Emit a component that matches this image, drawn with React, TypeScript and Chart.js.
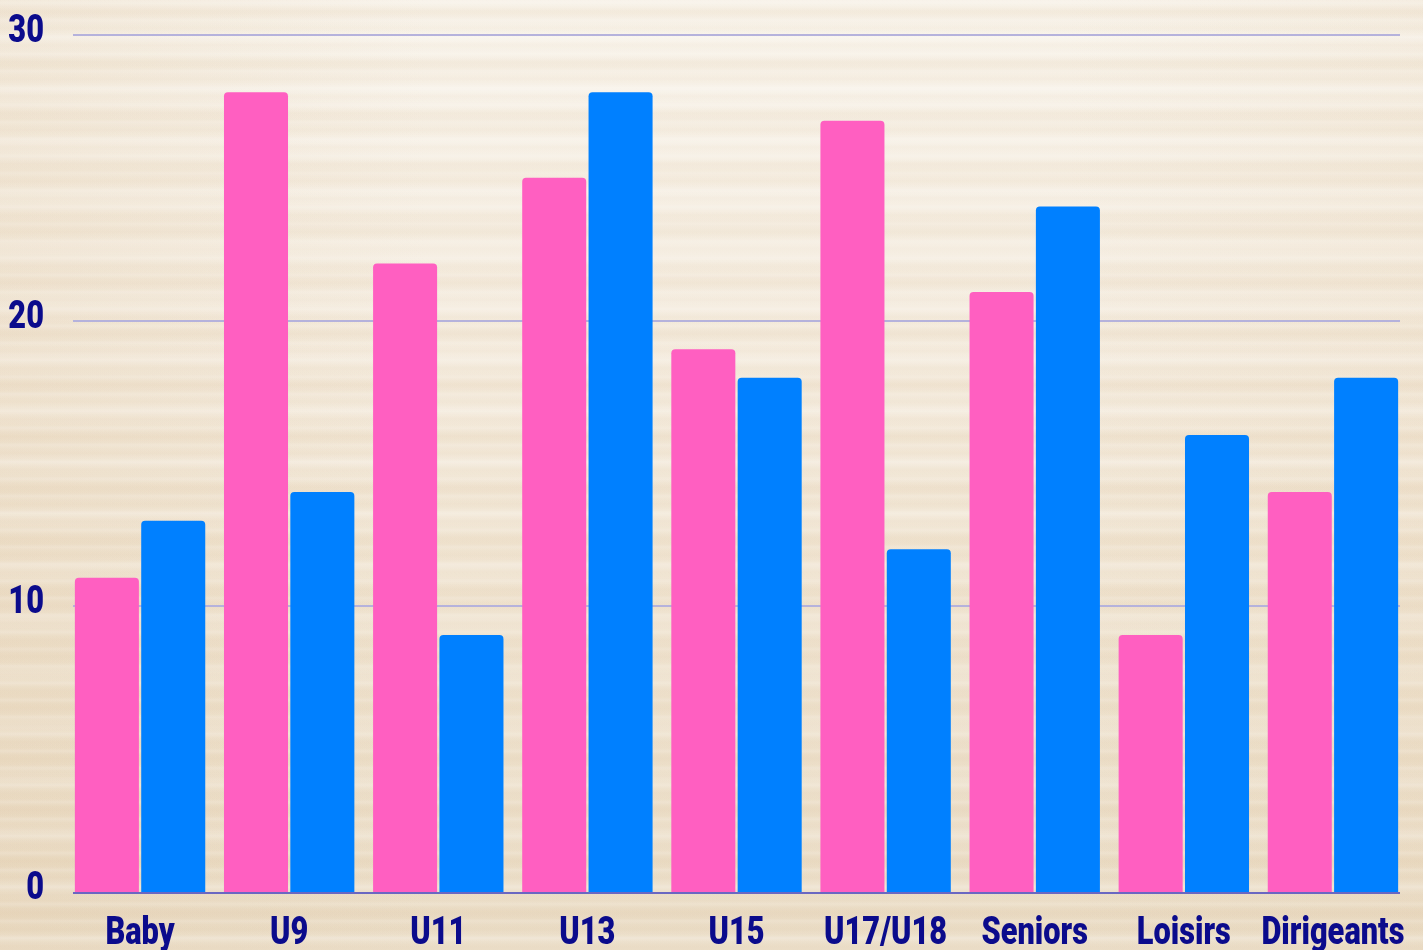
import React, { useEffect, useRef } from "react";
import { Chart, registerables } from "chart.js";

Chart.register(...registerables);

const categories = ["Baby", "U9", "U11", "U13", "U15", "U17/U18", "Seniors", "Loisirs", "Dirigeants"];
const pinkValues = [11, 28, 22, 25, 19, 27, 21, 9, 14];
const blueValues = [13, 14, 9, 28, 18, 12, 24, 16, 18];
const yTicks = [0, 10, 20, 30];

const PINK = "#FF5FC1";
const BLUE = "#0080FF";
const NAVY = "#0B0B8C";
const FONT = '900 38px Roboto, "DejaVu Sans", sans-serif';
const SQUEEZE = 0.81;

function drawSqueezed(ctx: CanvasRenderingContext2D, text: string, x: number, y: number, align: "center" | "right") {
  ctx.save();
  ctx.translate(x, y);
  ctx.scale(SQUEEZE, 1);
  ctx.textAlign = align;
  ctx.textBaseline = "alphabetic";
  ctx.fillText(text, 0, 0);
  ctx.restore();
}

const customPlugin = {
  id: "customGrid",
  beforeDatasetsDraw(chart: any) {
    const { ctx, scales } = chart;
    const y = scales.y;
    ctx.save();
    ctx.strokeStyle = "#B5B2DC";
    ctx.lineWidth = 2;
    yTicks.forEach((v) => {
      if (v === 0) return;
      const py = Math.round(y.getPixelForValue(v));
      ctx.beginPath();
      ctx.moveTo(73, py);
      ctx.lineTo(1400, py);
      ctx.stroke();
    });
    ctx.restore();
  },
  afterDatasetsDraw(chart: any) {
    const { ctx, scales } = chart;
    const y = scales.y;
    const x = scales.x;
    const py0 = Math.round(y.getPixelForValue(0)) + 1;
    ctx.save();
    ctx.strokeStyle = "#6A67C2";
    ctx.lineWidth = 2;
    ctx.beginPath();
    ctx.moveTo(73, py0);
    ctx.lineTo(1400, py0);
    ctx.stroke();

    ctx.fillStyle = NAVY;
    ctx.font = FONT;
    yTicks.forEach((v) => {
      const py = y.getPixelForValue(v);
      drawSqueezed(ctx, String(v), 44, py + 7, "right");
    });
    categories.forEach((c, i) => {
      const px = x.getPixelForValue(i);
      drawSqueezed(ctx, c, px, 944, "center");
    });
    ctx.restore();
  },
};

export default function App() {
  const ref = useRef<HTMLCanvasElement>(null);
  useEffect(() => {
    document.body.style.margin = "0";
    const chart = new Chart(ref.current!, {
      type: "bar",
      data: {
        labels: categories,
        datasets: [
          {
            data: pinkValues,
            backgroundColor: PINK,
            borderRadius: { topLeft: 4, topRight: 4, bottomLeft: 0, bottomRight: 0 },
            borderSkipped: false,
            barPercentage: 0.965,
            categoryPercentage: 0.89,
          },
          {
            data: blueValues,
            backgroundColor: BLUE,
            borderRadius: { topLeft: 4, topRight: 4, bottomLeft: 0, bottomRight: 0 },
            borderSkipped: false,
            barPercentage: 0.965,
            categoryPercentage: 0.89,
          },
        ],
      },
      options: {
        responsive: false,
        animation: false,
        layout: { padding: { top: 35, right: 15.5, left: 0, bottom: 0 } },
        plugins: { legend: { display: false }, tooltip: { enabled: false } },
        scales: {
          x: {
            grid: { display: false, drawTicks: false },
            border: { display: false },
            ticks: { display: false },
            afterFit(scale: any) {
              scale.height = 58;
            },
          },
          y: {
            min: 0,
            max: 30,
            grid: { display: false, drawTicks: false },
            border: { display: false },
            ticks: { display: false, stepSize: 10 },
            afterFit(scale: any) {
              scale.width = 65.5;
            },
          },
        },
      },
      plugins: [customPlugin],
    });
    return () => chart.destroy();
  }, []);

  const bg =
    "repeating-linear-gradient(180deg, rgba(255,255,255,0) 0px, rgba(255,255,255,0.16) 3px, rgba(255,255,255,0) 7px, rgba(214,186,150,0.07) 11px, rgba(255,255,255,0) 17px)," +
    "repeating-linear-gradient(180deg, rgba(222,196,160,0) 0px, rgba(222,196,160,0.12) 13px, rgba(222,196,160,0) 29px, rgba(255,255,255,0.16) 37px, rgba(222,196,160,0) 53px)," +
    "linear-gradient(90deg, rgba(226,204,172,0.25) 0%, rgba(255,255,255,0) 30%, rgba(255,255,255,0) 75%, rgba(226,204,172,0.15) 100%)," +
    "linear-gradient(180deg, #F8F3EA 0%, #F4EBDD 35%, #F0E4D1 60%, #EADCC5 100%)";

  return (
    <div style={{ position: "absolute", left: 0, top: 0, width: 1423, height: 950, background: bg }}>
      <canvas ref={ref} width={1423} height={950} style={{ display: "block" }} />
    </div>
  );
}
